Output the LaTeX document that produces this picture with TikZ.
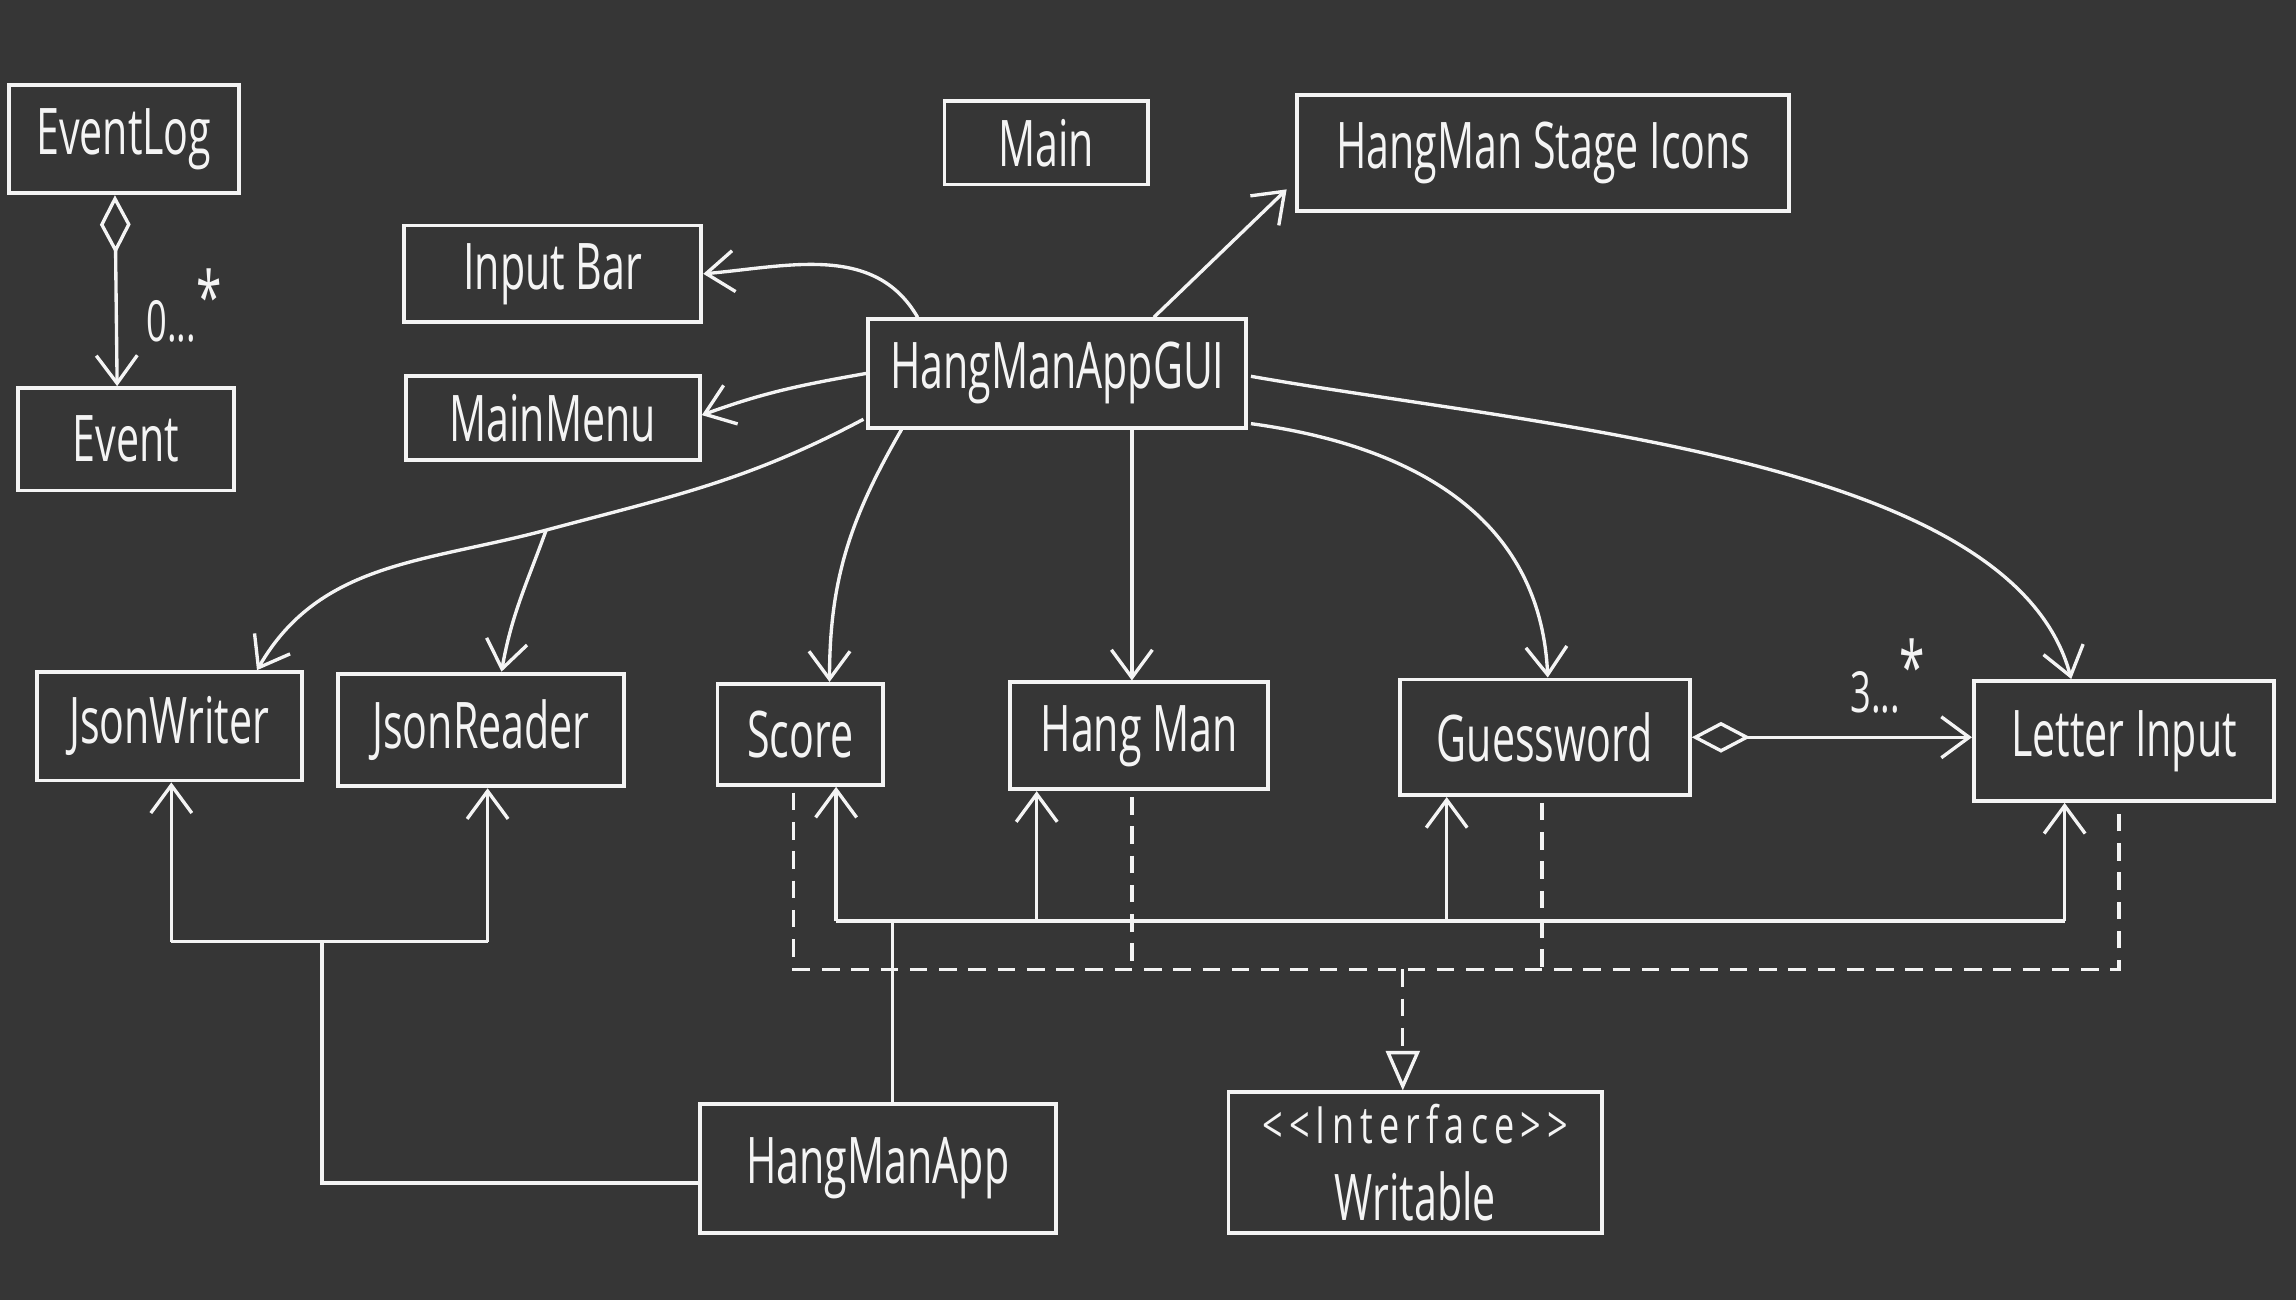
\documentclass[tikz,border=0pt]{standalone}
\usepackage{fontspec}
\setmainfont{Open Sans}[FakeStretch=0.64]
\newfontfamily\spacedfont{Open Sans}[FakeStretch=0.7, LetterSpace=12]
\usetikzlibrary{positioning,arrows.meta,calc}
\definecolor{boardgrey}{HTML}{363636}
\definecolor{chalk}{HTML}{F4F4F4}

\begin{document}
\begin{tikzpicture}[
  x=0.1mm, y=0.1mm,
  font=\fontsize{12.5}{14}\selectfont,
  text=chalk,
  cls/.style={draw=chalk, line width=0.75pt, inner sep=2pt, align=center},
  link/.style={draw=chalk, line width=0.65pt},
  arr/.style={link, -{Straight Barb[length=1.9mm, width=2.8mm]}},
  agg/.style={link, {Diamond[open, length=4mm, width=2.1mm]}-{Straight Barb[length=1.9mm, width=2.8mm]}},
  dashln/.style={link, dash pattern=on 1.2mm off 0.8mm},
  real/.style={dashln, -{Triangle[open, length=2.7mm, width=2.3mm]}},
  mult/.style={font=\fontsize{11}{12}\selectfont, inner sep=1pt},
]
  \fill[boardgrey] (0,0) rectangle (1568,-888);
  \useasboundingbox (0,0) rectangle (1568,-888);

  \node[cls, minimum width=15.7mm, minimum height=7.4mm] (eventlog) at (84.5,-95)    {EventLog};
  \node[cls, minimum width=14.8mm, minimum height=7mm]   (event)    at (86,-300)     {Event};
  \node[cls, minimum width=20.3mm, minimum height=6.6mm] (inputbar) at (377.5,-187)  {Input Bar};
  \node[cls, minimum width=20.1mm, minimum height=5.7mm] (mainmenu) at (377.5,-285.5) {MainMenu};
  \node[cls, minimum width=13.9mm, minimum height=5.7mm] (main)     at (714.5,-97.5) {Main};
  \node[cls, minimum width=33.6mm, minimum height=7.9mm] (icons)    at (1054,-104.5) {HangMan Stage Icons};
  \node[cls, minimum width=25.8mm, minimum height=7.4mm] (gui)      at (722,-255)    {HangManAppGUI};
  \node[cls, minimum width=18.1mm, minimum height=7.4mm] (jwriter)  at (115.5,-496)  {JsonWriter};
  \node[cls, minimum width=19.5mm, minimum height=7.7mm] (jreader)  at (328.5,-498.5) {JsonReader};
  \node[cls, minimum width=11.3mm, minimum height=6.9mm] (score)    at (546.5,-501.5) {Score};
  \node[cls, minimum width=17.6mm, minimum height=7.3mm] (hangman)  at (778,-502.5)  {Hang Man};
  \node[cls, minimum width=19.8mm, minimum height=7.9mm] (guess)    at (1055,-503.5) {Guessword};
  \node[cls, minimum width=20.5mm, minimum height=8.2mm] (letter)   at (1450.5,-506) {Letter Input};
  \node[cls, minimum width=24.3mm, minimum height=8.8mm] (app)      at (599.5,-798)  {HangManApp};
  \node[cls, minimum width=25.5mm, minimum height=9.6mm] (writable) at (966.5,-794)
    {{\spacedfont\fontsize{10}{11}\selectfont <{}<Interface>{}>}\\[0.4mm] Writable};

  \draw[agg] ($(eventlog.south)+(-6,0)$) -- node[mult, pos=0.58, right=1.6mm]{0...\raisebox{0.6ex}{\fontsize{14}{14}\selectfont *}} ($(event.north)+(-6,0)$);
  \draw[agg] (guess.east) -- node[mult, pos=0.7, above=1.2mm]{3...\raisebox{0.6ex}{\fontsize{14}{14}\selectfont *}} (guess.east -| letter.west);

  \draw[arr] ($(gui.north west)+(35,0)$) to[out=120,in=5] (inputbar.east);
  \draw[arr] (gui.west) to[out=190,in=20] ($(mainmenu.east)+(0,2)$);
  \draw[arr] ($(gui.north)+(66,0)$) -- ($(icons.south west)+(-6,16)$);

  \coordinate (split) at (373,-362);
  \draw[arr] ($(gui.south west)+(-2,7)$) to[out=208,in=15] (split) to[out=195,in=60] ($(jwriter.north)+(60,0)$);
  \draw[arr] (split) to[out=250,in=80] ($(jreader.north)+(14,0)$);
  \draw[arr] ($(gui.south west)+(24,0)$) to[out=240,in=90] ($(score.north)+(20,0)$);
  \draw[arr] ($(gui.south)+(51,0)$) coordinate (gdown) -- (gdown |- hangman.north);
  \draw[arr] ($(gui.south east)+(2,4)$) .. controls +(110,-15) and +(-5,110) .. ($(guess.north)+(2,0)$);
  \draw[arr] ($(gui.east)+(2,-2)$) .. controls +(200,-35) and +(-40,150) .. ($(letter.north)+(-36,0)$);

  \coordinate (busl) at (571,-629);
  \coordinate (busr) at (1410,-629);
  \coordinate (bus2) at (708,-629);
  \coordinate (bus3) at (988,-629);
  \draw[link] ($(app.north)+(10,0)$) |- (busl) -- (busr);
  \draw[arr] (busl) -- (busl |- score.south);
  \draw[arr] (bus2) -- (bus2 |- hangman.south);
  \draw[arr] (bus3) -- (bus3 |- guess.south);
  \draw[arr] (busr) -- (busr |- letter.south);

  \coordinate (jsonl) at (117,-643);
  \coordinate (jsonm) at (220,-643);
  \coordinate (jsonr) at (333,-643);
  \draw[link] ($(app.west)+(0,-10)$) -| (jsonm);
  \draw[link] (jsonl) -- (jsonr);
  \draw[arr] (jsonl) -- (jsonl |- jwriter.south);
  \draw[arr] (jsonr) -- (jsonr |- jreader.south);

  \coordinate (dashl) at (542,-662);
  \coordinate (dash2) at (773,-662);
  \coordinate (dash3) at (1053,-662);
  \coordinate (dashr) at (1447,-662);
  \coordinate (dashw) at (958,-662);
  \draw[dashln] ($(dashl |- score.south)+(0,-4)$) -- (dashl) -- (dashr) -- ($(dashr |- letter.south)+(0,-4)$);
  \draw[dashln] ($(dash2 |- hangman.south)+(0,-4)$) -- (dash2);
  \draw[dashln] ($(dash3 |- guess.south)+(0,-4)$) -- (dash3);
  \draw[real] (dashw) -- (dashw |- writable.north);
\end{tikzpicture}
\end{document}
